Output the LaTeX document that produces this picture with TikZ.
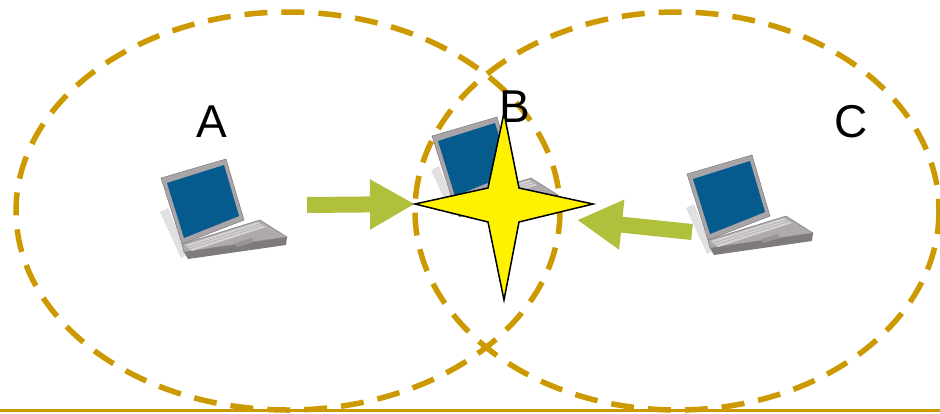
\documentclass[tikz,border=0pt]{standalone}
\usepackage{fontspec}
\setmainfont{Liberation Sans}
\usetikzlibrary{arrows.meta}

\definecolor{ringgold}{HTML}{CC9900}
\definecolor{sigreen}{HTML}{B0C03C}
\definecolor{lcdblue}{HTML}{065B8E}
\definecolor{lidgray}{HTML}{A8A4A8}
\definecolor{deckgray}{HTML}{ADA9AD}
\definecolor{keygray}{HTML}{D4D2D4}
\definecolor{rimgray}{HTML}{7E7A7E}

\tikzset{
  laptop/.pic={
    \fill[black!12] (-2,30) -- (6,26) -- (25,73) -- (19,76) -- cycle;
    \fill[rimgray] (22,70) -- (125,55) -- (124,63) -- (26,77) -- cycle;
    \filldraw[fill=deckgray,draw=rimgray,line width=.5pt] (20,62) -- (98,38) -- (125,55) -- (22,70) -- cycle;
    \fill[keygray] (23,63) -- (96,40) -- (104,45) -- (30,69) -- cycle;
    \draw[deckgray,line width=.6pt] (25,65) -- (98.7,41.7) (27,67) -- (101.3,43.3);
    \fill[rimgray!80] (73,61) -- (90,56) -- (92,60) -- (75,65) -- cycle;
    \filldraw[fill=lidgray,draw=rimgray,line width=.5pt] (-1,-4) -- (64,-23) -- (82,38) -- (20,62) -- cycle;
    \fill[lcdblue] (5,1) -- (62,-17) -- (77,34) -- (22,56) -- cycle;
  }
}

\begin{document}
\begin{tikzpicture}[x=1pt,y=-1pt,
  ring/.style={ringgold,line width=5.5pt,dash pattern=on 23pt off 14pt},
  sig/.style={sigreen,line width=16pt,-{Triangle[length=45pt,width=47pt]}},
  lbl/.style={inner sep=0pt,font=\fontsize{46}{46}\selectfont}]
  \useasboundingbox (0,0) rectangle (940,413);

  \pic (lapA) at (162,182) {laptop};
  \pic (lapB) at (433,140) {laptop};
  \pic (lapC) at (688,178) {laptop};

  \draw[ring] (288,211) ellipse [x radius=272, y radius=199];
  \draw[ring] (677,211) ellipse [x radius=262, y radius=199];
  \draw[ringgold,line width=3pt] (0,410.5) -- (940,410.5);

  \node[lbl] (labA) at (212,122) {A};
  \node[lbl] (labB) at (515,107) {B};
  \node[lbl] (labC) at (851,122) {C};

  \coordinate (starW) at (415,204);
  \coordinate (starE) at (593,204);
  \coordinate (starN) at (504,113);
  \coordinate (starS) at (504,300);
  \coordinate (sendA) at (307,205);
  \coordinate (sendC) at (692,232);
  \coordinate (hitC) at (577,220);

  \draw[sig] (sendA) -- (starW);
  \draw[sig] (sendC) -- (hitC);

  \filldraw[fill=yellow,draw=black,line width=1.5pt,line join=miter]
    (starW) -- (488,188) -- (starN) -- (519,188) -- (starE)
    -- (519,222) -- (starS) -- (488,222) -- cycle;
\end{tikzpicture}
\end{document}
